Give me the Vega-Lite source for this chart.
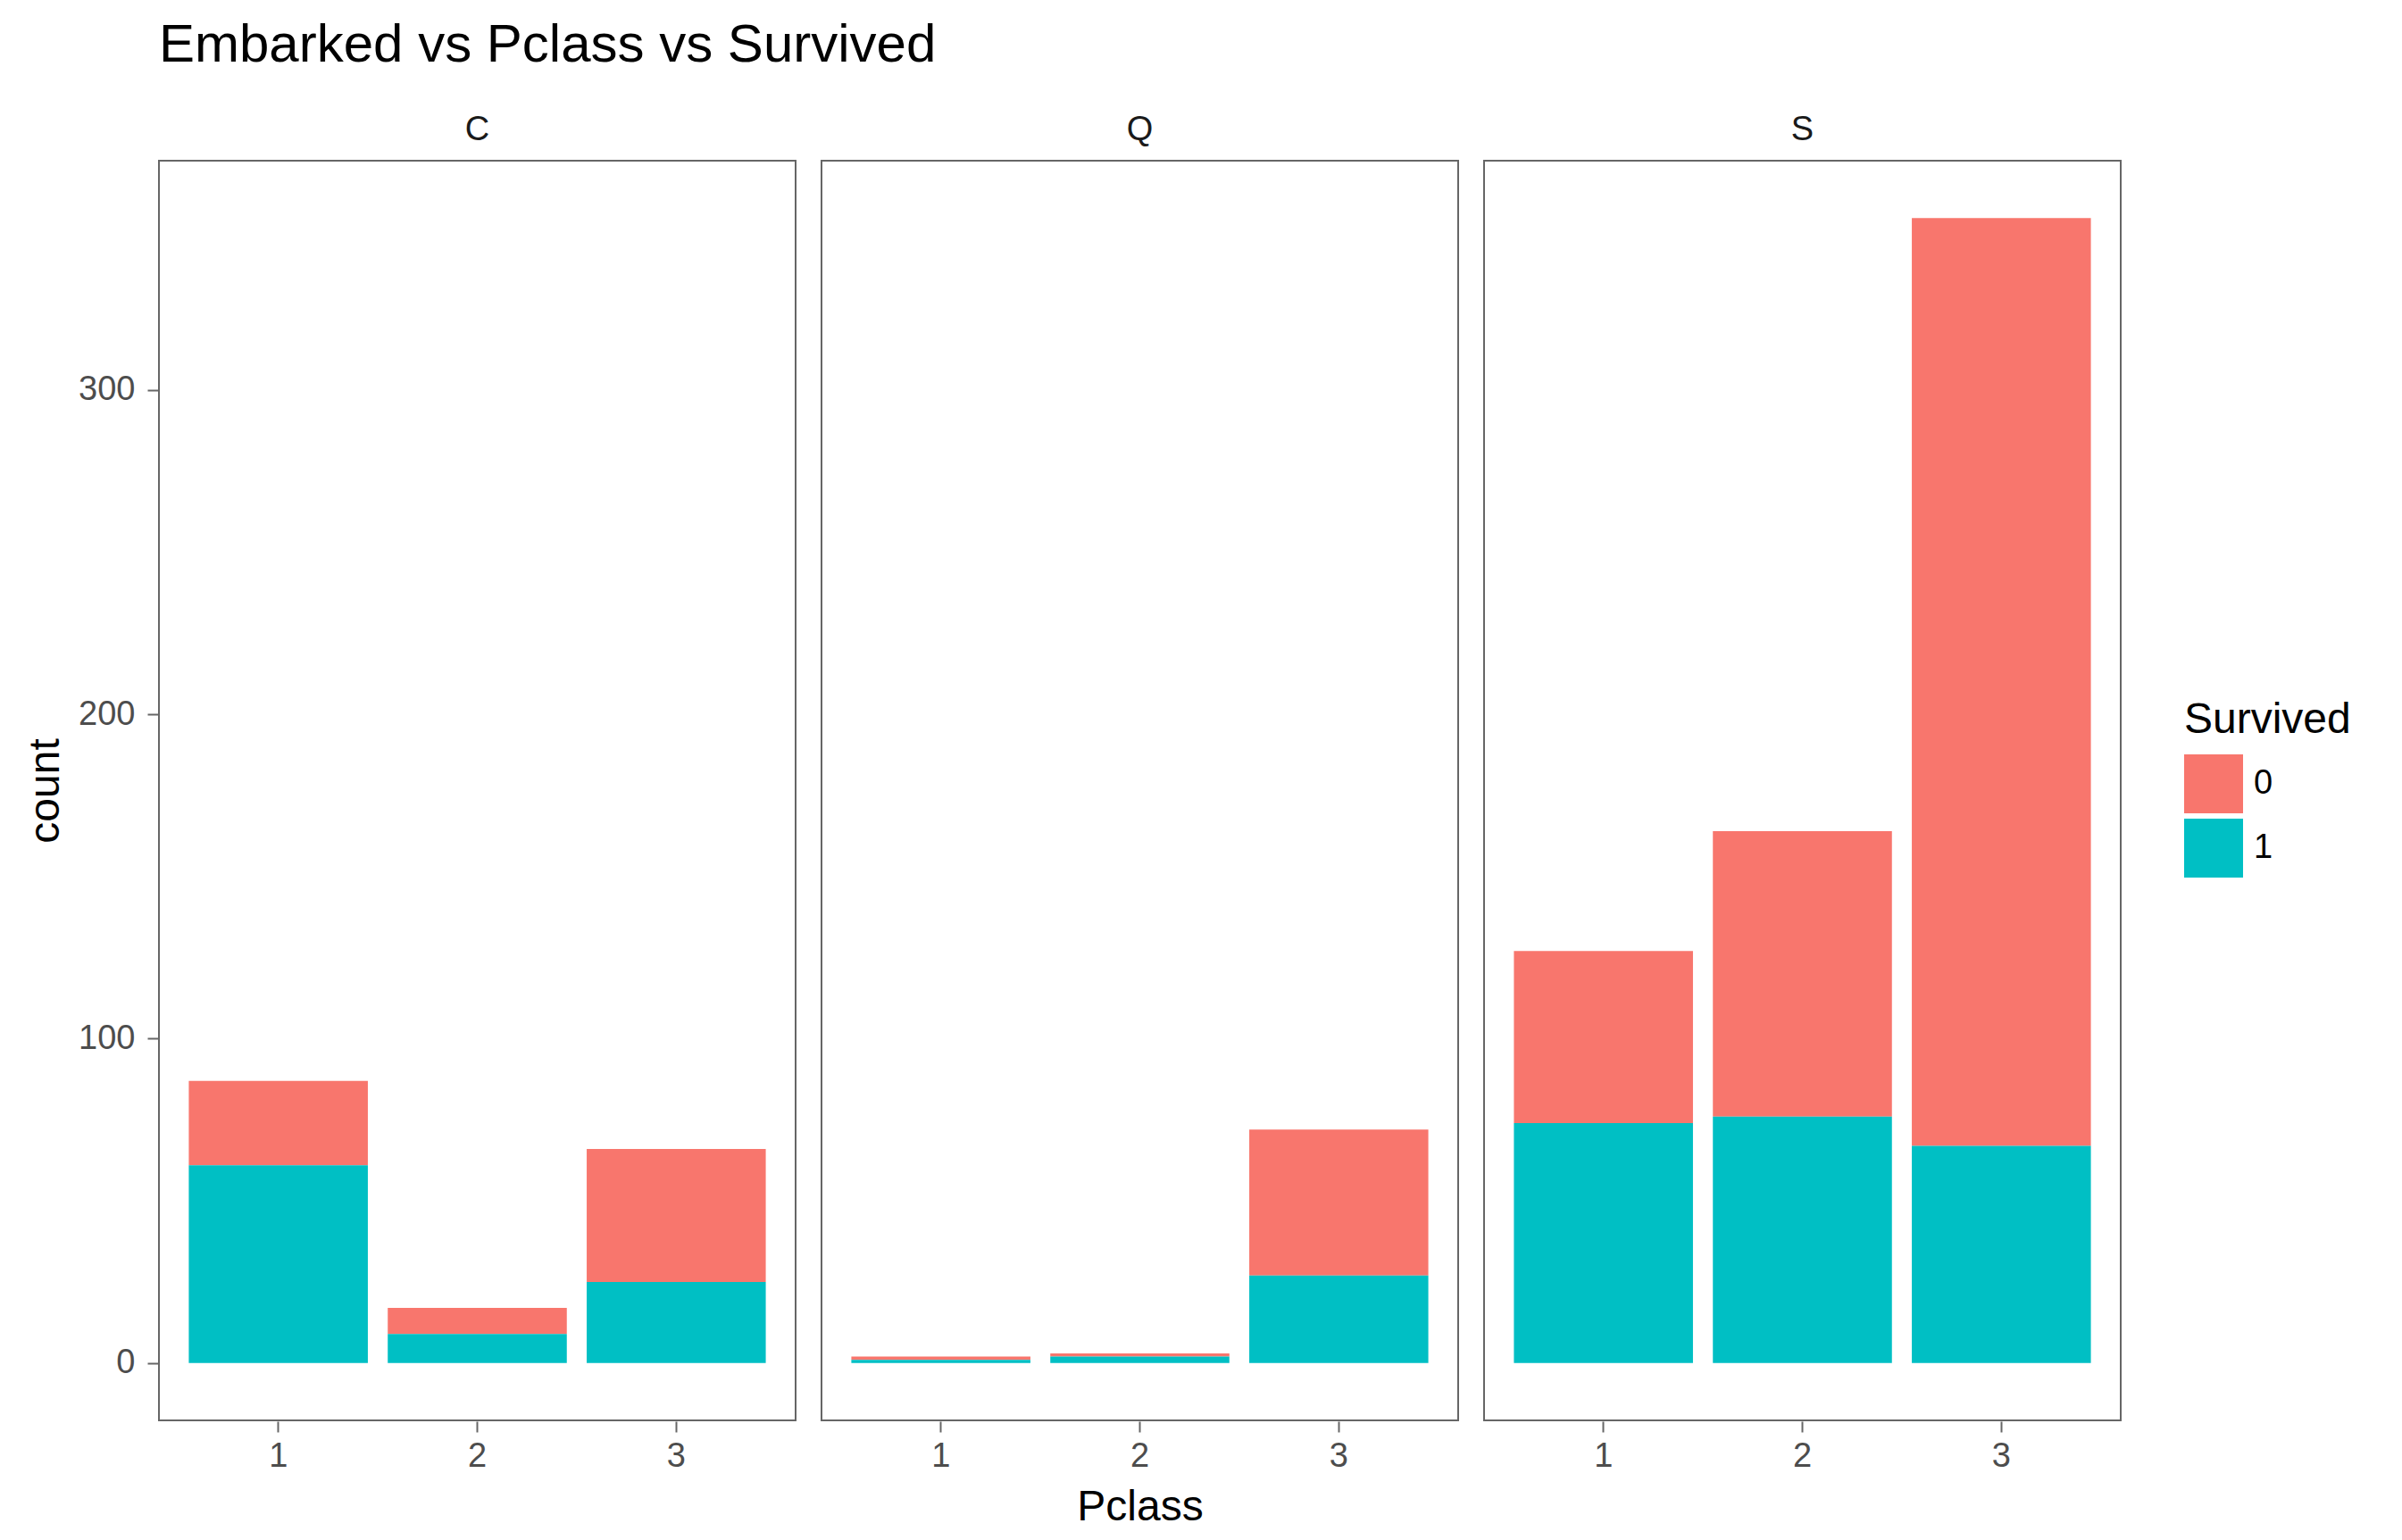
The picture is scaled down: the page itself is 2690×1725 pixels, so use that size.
{
  "$schema": "https://vega.github.io/schema/vega-lite/v6.json",
  "background": "white",
  "padding": {"left": 27, "top": 21, "right": 10, "bottom": 10},
  "title": {"text": "Embarked vs Pclass vs Survived", "anchor": "start", "frame": "group", "font": "Liberation Sans", "fontSize": 60, "fontWeight": "normal", "color": "black", "offset": 45},
  "data": {"values": [
    {"Embarked": "C", "Pclass": "1", "Survived": "0", "count": 26},
    {"Embarked": "C", "Pclass": "1", "Survived": "1", "count": 61},
    {"Embarked": "C", "Pclass": "2", "Survived": "0", "count": 8},
    {"Embarked": "C", "Pclass": "2", "Survived": "1", "count": 9},
    {"Embarked": "C", "Pclass": "3", "Survived": "0", "count": 41},
    {"Embarked": "C", "Pclass": "3", "Survived": "1", "count": 25},
    {"Embarked": "Q", "Pclass": "1", "Survived": "0", "count": 1},
    {"Embarked": "Q", "Pclass": "1", "Survived": "1", "count": 1},
    {"Embarked": "Q", "Pclass": "2", "Survived": "0", "count": 1},
    {"Embarked": "Q", "Pclass": "2", "Survived": "1", "count": 2},
    {"Embarked": "Q", "Pclass": "3", "Survived": "0", "count": 45},
    {"Embarked": "Q", "Pclass": "3", "Survived": "1", "count": 27},
    {"Embarked": "S", "Pclass": "1", "Survived": "0", "count": 53},
    {"Embarked": "S", "Pclass": "1", "Survived": "1", "count": 74},
    {"Embarked": "S", "Pclass": "2", "Survived": "0", "count": 88},
    {"Embarked": "S", "Pclass": "2", "Survived": "1", "count": 76},
    {"Embarked": "S", "Pclass": "3", "Survived": "0", "count": 286},
    {"Embarked": "S", "Pclass": "3", "Survived": "1", "count": 67}
  ]},
  "facet": {
    "column": {
      "field": "Embarked", "type": "nominal", "title": "Pclass",
      "header": {
        "labelFont": "Liberation Sans", "labelFontSize": 38, "labelColor": "#1a1a1a", "labelPadding": 14,
        "titleOrient": "bottom", "titleFont": "Liberation Sans", "titleFontSize": 48, "titleFontWeight": "normal", "titleColor": "black", "titlePadding": 5
      }
    }
  },
  "spacing": 27,
  "spec": {
    "width": 713,
    "height": 1411,
    "mark": {"type": "bar"},
    "encoding": {
      "x": {
        "field": "Pclass", "type": "ordinal",
        "scale": {"paddingInner": 0.1, "paddingOuter": 0.15},
        "axis": {"title": null, "labelAngle": 0}
      },
      "y": {
        "field": "count", "type": "quantitative", "stack": "zero",
        "scale": {"domain": [-17.65, 370.65], "nice": false, "zero": false},
        "axis": {"title": "count", "values": [0, 100, 200, 300], "labelPadding": 14}
      },
      "color": {
        "field": "Survived", "type": "nominal",
        "scale": {"domain": ["0", "1"], "range": ["#F8766D", "#00BFC4"]},
        "legend": {
          "orient": "none", "legendX": 2268, "legendY": 603,
          "title": "Survived", "symbolType": "square", "symbolSize": 4356,
          "symbolStrokeWidth": 0, "symbolOpacity": 1, "rowPadding": 6,
          "titleFont": "Liberation Sans", "titleFontSize": 48, "titleFontWeight": "normal", "titleColor": "black", "titlePadding": 14, "titleLimit": 400,
          "labelFont": "Liberation Sans", "labelFontSize": 38, "labelColor": "black", "labelOffset": 12
        }
      },
      "order": {"field": "Survived", "sort": "descending"}
    }
  },
  "config": {
    "view": {"stroke": "#666666", "strokeWidth": 2},
    "axis": {
      "grid": false, "domain": false,
      "tickColor": "#666666", "tickWidth": 2, "tickSize": 12,
      "labelFont": "Liberation Sans", "labelFontSize": 38, "labelColor": "#4d4d4d", "labelPadding": 8,
      "titleFont": "Liberation Sans", "titleFontSize": 48, "titleFontWeight": "normal", "titleColor": "black", "titlePadding": 12
    }
  }
}
